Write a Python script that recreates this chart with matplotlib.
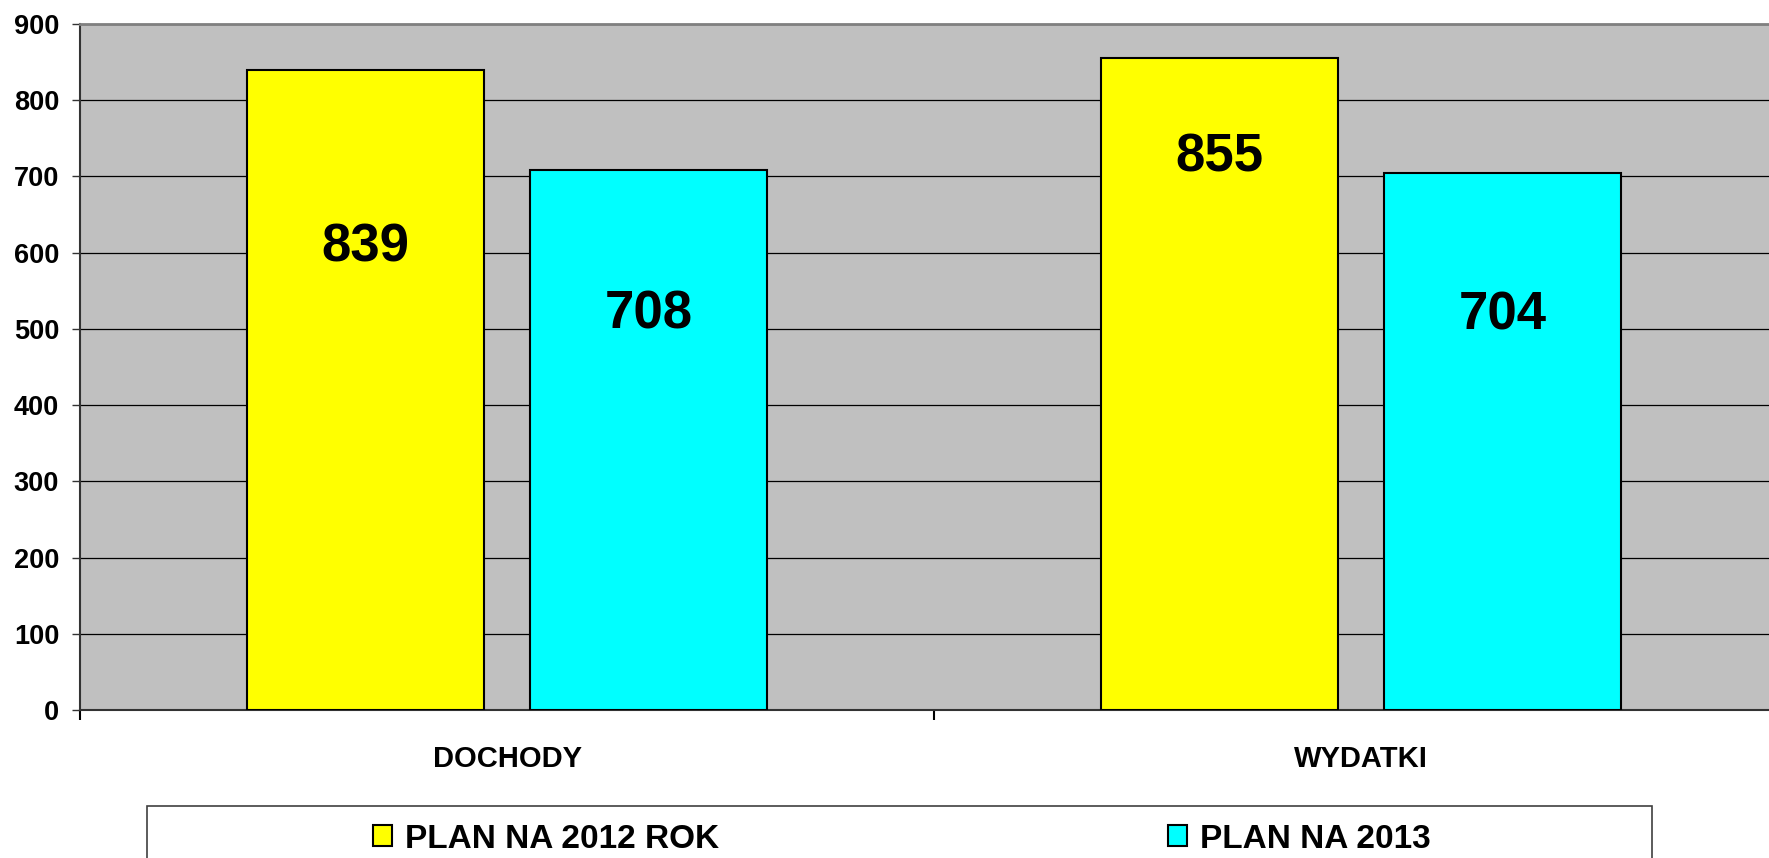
import matplotlib
matplotlib.use('Agg')
import matplotlib.pyplot as plt
from matplotlib.patches import Rectangle
import numpy as np

# ---- data ----
categories = ['DOCHODY', 'WYDATKI']
series_names = ['PLAN NA 2012 ROK', 'PLAN NA 2013']
plan_2012 = [839, 855]
plan_2013 = [708, 704]
y_ticks = [0, 100, 200, 300, 400, 500, 600, 700, 800, 900]

# label vertical placement (data units) as in the original
label_y_2012 = [607, 725]
label_y_2013 = [519, 517]

plt.rcParams['font.family'] = ['Liberation Sans', 'DejaVu Sans']
plt.rcParams['font.weight'] = 'bold'

W, H = 1769, 858
fig = plt.figure(figsize=(W / 100, H / 100), dpi=100)
ax = fig.add_axes([80 / W, (H - 710) / H, (1788 - 80) / W, 686 / H])
ax.set_facecolor('#C0C0C0')

x = np.arange(len(categories))
width = 0.2775
off = 0.166
colors = ['#FFFF00', '#00FFFF']
series = [plan_2012, plan_2013]
label_ys = [label_y_2012, label_y_2013]
handles = []
for i, (vals, name, col, lys) in enumerate(zip(series, series_names, colors, label_ys)):
    pos = x + (2 * i - 1) * off
    b = ax.bar(pos, vals, width, color=col, edgecolor='black', linewidth=1.5,
               label=name, zorder=3)
    handles.append(b)
    for xi, ly, v in zip(pos, lys, vals):
        ax.text(xi, ly, str(v), ha='center', va='center', fontsize=38,
                fontweight='bold', zorder=4, color='black')

ax.set_xlim(-0.5, 1.5)
ax.set_ylim(0, 900)
ax.set_yticks(y_ticks)
ax.yaxis.grid(True, color='black', lw=0.9)
ax.set_axisbelow(True)
ax.tick_params(axis='y', length=6, width=1, pad=9, labelsize=19.5, color='#333333')
ax.set_xticks(x)
ax.set_xticklabels(categories)
ax.tick_params(axis='x', which='major', length=0, pad=25, labelsize=21)
ax.set_xticks([-0.5, 0.5, 1.5], minor=True)
ax.tick_params(axis='x', which='minor', length=7.5, width=1.5, color='black')

ax.spines['top'].set_color('#808080')
ax.spines['top'].set_linewidth(2)
for s in ['left', 'bottom']:
    ax.spines[s].set_color('#333333')
    ax.spines[s].set_linewidth(1.5)

# legend frame
frame = Rectangle((147 / W, (H - 880) / H), (1652 - 147) / W, (880 - 806) / H,
                  transform=fig.transFigure, facecolor='white',
                  edgecolor='#404040', lw=1.2, zorder=0)
fig.add_artist(frame)

fig.legend(handles, series_names, ncol=2, loc='center left',
           bbox_to_anchor=(373 / W, (H - 839) / H), frameon=False,
           fontsize=24, handlelength=0.57, handleheight=0.57,
           handletextpad=0.39, columnspacing=13.47, borderpad=0,
           borderaxespad=0)

fig.savefig('out.png', dpi=100)
